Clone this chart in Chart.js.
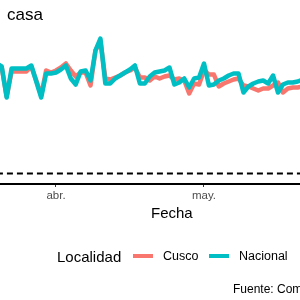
<!DOCTYPE html>
<html>
<head>
<meta charset="utf-8">
<script src="https://cdn.jsdelivr.net/npm/chart.js@4.4.0/dist/chart.umd.min.js"></script>
<style>
  html, body { margin: 0; padding: 0; background: #fff; overflow: hidden; }
  #wrap { position: relative; width: 300px; height: 300px; overflow: hidden; font-family: "Liberation Sans", Arial, sans-serif; }
  #chart1 { position: absolute; left: 0; top: 0; }
  .txt { position: absolute; white-space: nowrap; color: #000; line-height: 1; }
  .key { position: absolute; height: 4px; }
</style>
</head>
<body>
<div id="wrap">
  <canvas id="chart1" width="300" height="300"></canvas>
  <div class="txt" id="title" style="left:7px; top:6px; font-size:17px;">casa</div>
  <div class="txt" id="xTitle" style="left:151px; top:205px; font-size:15px;">Fecha</div>
  <div class="txt" style="left:57px; top:249px; font-size:15px;">Localidad</div>
  <div class="key" style="left:133px; top:254px; width:20px; background:#F8766D;"></div>
  <div class="txt" style="left:163px; top:250px; font-size:12.5px;">Cusco</div>
  <div class="key" style="left:209px; top:254px; width:20px; background:#00BFC4;"></div>
  <div class="txt" style="left:239px; top:250px; font-size:12.5px;">Nacional</div>
  <div class="txt" style="left:233px; top:283px; font-size:12px;">Fuente: Community Mobility Reports, Google</div>
</div>
<script>
// dates from 2020-03-20 to 2020-05-21, one per day
let startDate = '2020-03-20';
let seriesNames = ['Cusco', 'Nacional'];
let seriesColors = ['#F8766D', '#00BFC4'];

let cuscoValues = [
  43.6, 42.4, 30.8, 40.8, 40.8, 40.8, 40.8, 42.8, 37.2, 31.2, 41.2, 40.4,
  41.2, 42.4, 44.0, 41.2, 38.8, 40.4, 40.4, 35.2, 49.2, 53.2, 38.0, 37.6,
  38.4, 39.2, 40.4, 41.2, 42.4, 38.4, 38.4, 37.2, 38.8, 38.0, 38.8, 39.2,
  37.6, 38.0, 37.2, 32.0, 36.0, 35.6, 41.2, 39.6, 39.6, 34.8, 36.0, 36.8,
  37.6, 38.0, 35.2, 34.8, 34.0, 33.2, 34.0, 34.0, 35.2, 36.4, 32.4, 34.0,
  34.4, 34.4, 34.8
];

let nacionalValues = [
  44.0, 42.8, 30.4, 42.0, 42.0, 42.0, 42.0, 43.2, 36.8, 30.4, 40.0, 40.0,
  40.4, 41.6, 43.2, 38.0, 35.6, 40.8, 41.2, 37.2, 49.2, 54.0, 36.0, 36.0,
  38.0, 39.2, 40.4, 41.6, 43.2, 36.0, 36.0, 38.8, 40.4, 40.8, 41.2, 42.4,
  35.6, 36.4, 38.0, 34.4, 38.0, 38.4, 44.0, 35.2, 35.6, 37.2, 38.0, 39.2,
  40.0, 40.0, 32.4, 34.8, 36.0, 36.8, 37.2, 36.0, 39.2, 32.4, 35.6, 36.4,
  36.4, 36.8, 37.6
];

let tickDates = ['2020-04-01', '2020-05-01'];
let tickLabels = ['abr.', 'may.'];
let baseline = 0;

// days relative to 1 April
function dayOffset(dateStr){
  var ref = Date.UTC(2020, 3, 1);
  var p = dateStr.split('-');
  return Math.round((Date.UTC(+p[0], +p[1] - 1, +p[2]) - ref) / 86400000);
}

function buildPoints(values){
  var first = dayOffset(startDate);
  var pts = [];
  for (var i = 0; i < values.length; i++) {
    pts.push({ x: first + i, y: values[i] });
  }
  return pts;
}

var tickValues = tickDates.map(dayOffset);
var firstDay = dayOffset(startDate);
var lastDay = firstDay + nacionalValues.length;

var ctx = document.getElementById('chart1').getContext('2d');
new Chart(ctx, {
  type: 'line',
  data: {
    datasets: [
      {
        label: 'baseline',
        data: [{ x: firstDay - 2, y: baseline }, { x: lastDay + 2, y: baseline }],
        borderColor: '#000',
        borderWidth: 2,
        borderDash: [6, 4],
        pointRadius: 0,
        order: 2,
      },
      {
        label: seriesNames[0],
        data: buildPoints(cuscoValues),
        borderColor: seriesColors[0],
        borderWidth: 4.5,
        borderJoinStyle: 'round',
        pointRadius: 0,
        order: 1,
      },
      {
        label: seriesNames[1],
        data: buildPoints(nacionalValues),
        borderColor: seriesColors[1],
        borderWidth: 4.5,
        borderJoinStyle: 'round',
        pointRadius: 0,
        order: 0,
      },
    ],
  },
  options: {
    responsive: false,
    animation: false,
    layout: { padding: { top: 24, left: 0, right: 0, bottom: 0 } },
    plugins: {
      legend: { display: false },
      tooltip: { enabled: false },
    },
    scales: {
      x: {
        type: 'linear',
        min: -11.35,
        max: 49.46,
        afterBuildTicks: function(scale){
          scale.ticks = tickValues.map(function(v){ return { value: v }; });
        },
        afterFit: function(scale){
          scale.height = 116;
        },
        ticks: {
          autoSkip: false,
          maxRotation: 0,
          padding: 2,
          color: '#4D4D4D',
          font: { family: 'Liberation Sans', size: 11.5 },
          callback: function(value){
            var idx = tickValues.indexOf(value);
            return idx >= 0 ? tickLabels[idx] : '';
          },
        },
        grid: { drawOnChartArea: false, drawTicks: true, tickLength: 3, color: '#333', lineWidth: 1 },
        border: { display: true, color: '#000', width: 2 },
      },
      y: {
        display: false,
        min: -4.2,
        max: 59.8,
      },
    },
  },
});
</script>
</body>
</html>
